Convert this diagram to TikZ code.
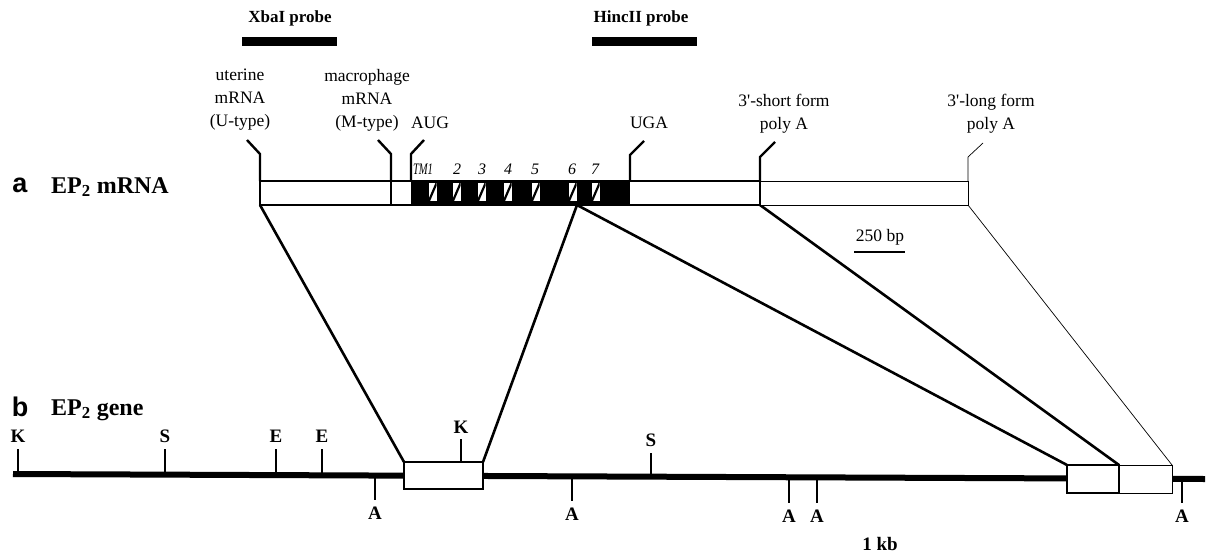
\documentclass[tikz,border=0pt]{standalone}
\usepackage{fontspec}
\setmainfont{Liberation Serif}
\newfontfamily\lblsans{Liberation Sans}
\usepackage{graphicx}
\begin{document}
\begin{tikzpicture}[x=1pt,y=-1pt,
  lbl/.style={font=\fontsize{17.5}{23}\selectfont, align=center, inner sep=0pt},
  blbl/.style={font=\fontsize{17}{20}\selectfont\bfseries, inner sep=0pt},
  site/.style={font=\fontsize{19}{20}\selectfont\bfseries, inner sep=0pt},
  tmlbl/.style={font=\fontsize{16}{17}\selectfont\itshape, inner sep=0pt},
  rowlbl/.style={font=\fontsize{24}{26}\selectfont\bfseries, inner sep=0pt, anchor=west},
  letter/.style={font=\fontsize{27}{28}\selectfont\lblsans\bfseries, inner sep=0pt},
  mline/.style={line width=2pt, line join=miter},
  conn/.style={line width=2.6pt},
  thinline/.style={line width=0.7pt},
  tickline/.style={line width=2pt},
  leader/.style={line width=2.4pt, line join=miter}
]
\useasboundingbox (0,0) rectangle (1217,557);

% ---------- probes ----------
\node[blbl] (xbalbl) at (290,18) {XbaI probe};
\node[blbl] (hinclbl) at (641,18) {HincII probe};
\fill (242,37) rectangle (337,46);
\fill (592,37) rectangle (697,46);

% ---------- row labels ----------
\node[letter] (la) at (20,185) {a};
\node[rowlbl] (lar) at (51,187) {EP\textsubscript{2} mRNA};
\node[letter] (lb) at (20,407) {b};
\node[rowlbl] (lbr) at (51,410) {EP\textsubscript{2} gene};

% ---------- coordinates ----------
\coordinate (mL) at (260,205);
\coordinate (mJ) at (577,205);
\coordinate (mS) at (760,205);
\coordinate (mE) at (968,205);
\coordinate (e1a) at (404,462);
\coordinate (e1b) at (483,462);
\coordinate (e2a) at (1067,465);
\coordinate (e2b) at (1119,465);
\coordinate (e2c) at (1172,465);
\coordinate (g0) at (13,474);
\coordinate (g1) at (1205,479);

% ---------- gene line ----------
\draw[line width=6pt] (g0) -- (g1);

% upper ticks
\foreach \x/\yl/\yt/\t in {18/474/449/K,165/474.6/449/S,276/475.1/449/E,322/475.3/449/E,651/476.7/453/S}{
  \draw[tickline] (\x,\yl) -- (\x,\yt);
  \node[site] at (\x,\yt-13) {\t};
}
% lower ticks
\foreach \x/\yl/\yb in {375/475.5/500,572/476.3/501,789/477.3/503,817/477.4/503,1182/478.9/503}{
  \draw[tickline] (\x,\yl) -- (\x,\yb);
  \node[site] at (\x,\yb+13) {A};
}

% exon boxes
\draw[line width=2.4pt, fill=white] (e1a) rectangle (483,489);
\draw[tickline] (461,462) -- (461,439);
\node[site] (kex) at (461,427) {K};
\draw[thinline, fill=white] (e2b) rectangle (1172,493);
\draw[line width=2.4pt, fill=white] (e2a) rectangle (1119,493);

% ---------- connectors ----------
\draw[conn] (mL) -- (e1a);
\draw[conn] (mJ) -- (e1b);
\draw[conn] (mJ) -- (e2a);
\draw[conn] (mS) -- (e2b);
\draw[thinline] (mE) -- (e2c);

% ---------- mRNA ----------
\fill[white] (260,181) rectangle (968,205);
\fill[black] (411,180) rectangle (630,205.5);
\foreach \x in {429,453,478,504,532,569,592}{
  \fill[white] (\x,183) rectangle ++(7.5,18);
  \begin{scope}
    \clip (\x,183) rectangle ++(7.5,18);
    \draw[line width=2.2pt] (\x-1,203) -- (\x+8.5,181);
  \end{scope}
}
\draw[mline] (411,181) -- (260,181) -- (260,205) -- (411,205);
\draw[mline] (630,181) -- (760,181) -- (760,205) -- (630,205);
\draw[mline] (391,181) -- (391,205);
\draw[thinline] (760,181) -- (968,181) -- (968,205) -- (760,205);

% TM labels
\node[tmlbl] (tm1) at (423,169) {\scalebox{0.66}[1]{TM1}};
\foreach \x/\t in {457/2,482/3,508/4,535/5,572/6,595/7}{
  \node[tmlbl] at (\x,169) {\t};
}

% leaders
\draw[leader] (260,181) -- (260,154) -- (247,140);
\draw[leader] (391,181) -- (391,154) -- (378,140);
\draw[leader] (411,181) -- (411,154) -- (424,140);
\draw[leader] (630,181) -- (630,155) -- (644,141);
\draw[leader] (760,181) -- (760,157) -- (775,142);
\draw[thinline] (968,181) -- (968,157) -- (983,143);

% leader labels
\node[lbl] (ut) at (240,100) {uterine\\mRNA\\(U-type)};
\node[lbl] (ma) at (367,100) {macrophage\\mRNA\\(M-type)};
\node[lbl] (aug) at (430,123) {AUG};
\node[lbl] (uga) at (649,123) {UGA};
\node[lbl] (sf) at (784,114) {3\textquotesingle-short form\\poly A};
\node[lbl] (lf) at (991,114) {3\textquotesingle-long form\\poly A};

% scales
\node[lbl] (bp) at (880,237) {250 bp};
\draw[line width=2pt] (854,252) -- (905,252);
\node[site] (kb) at (880,544) {1 kb};
\end{tikzpicture}
\end{document}
